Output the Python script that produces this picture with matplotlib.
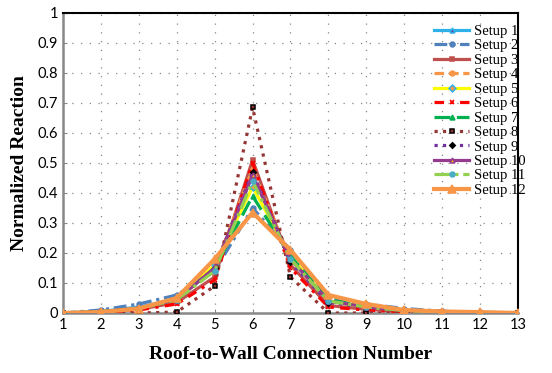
import numpy as np
import matplotlib.pyplot as plt

# номери з'єднань
x = np.arange(1, 14)

labels = ['Setup %d' % i for i in range(1, 13)]

s1 = [0, 0.005, 0.02, 0.045, 0.15, 0.46, 0.18, 0.04, 0.02, 0.008, 0.003, 0.001, 0]
s2 = [0, 0.01, 0.03, 0.06, 0.14, 0.35, 0.21, 0.05, 0.03, 0.015, 0.006, 0.002, 0]
s3 = [0, 0.003, 0.012, 0.035, 0.12, 0.51, 0.16, 0.025, 0.012, 0.005, 0.002, 0.001, 0]
s4 = [0, 0.004, 0.015, 0.045, 0.15, 0.48, 0.18, 0.04, 0.02, 0.008, 0.003, 0.001, 0]
s5 = [0, 0.004, 0.015, 0.045, 0.16, 0.42, 0.19, 0.04, 0.02, 0.008, 0.003, 0.001, 0]
s6 = [0, 0.002, 0.01, 0.03, 0.11, 0.50, 0.15, 0.02, 0.01, 0.004, 0.002, 0.001, 0]
s7 = [0, 0.004, 0.015, 0.045, 0.15, 0.39, 0.19, 0.045, 0.02, 0.008, 0.003, 0.001, 0]
s8 = [0, 0, 0, 0.003, 0.09, 0.685, 0.12, 0, 0, 0, 0, 0, 0]
s9 = [0, 0.004, 0.015, 0.045, 0.15, 0.47, 0.17, 0.035, 0.02, 0.008, 0.003, 0.001, 0]
s10 = [0, 0.004, 0.016, 0.045, 0.15, 0.46, 0.18, 0.04, 0.02, 0.008, 0.003, 0.001, 0]
s11 = [0, 0.004, 0.015, 0.045, 0.14, 0.44, 0.18, 0.04, 0.02, 0.008, 0.003, 0.001, 0]
s12 = [0, 0.003, 0.015, 0.05, 0.18, 0.335, 0.21, 0.06, 0.03, 0.01, 0.005, 0.003, 0]

series = [s1, s2, s3, s4, s5, s6, s7, s8, s9, s10, s11, s12]

# стиль: колір, лінія, маркер, колір маркера, край маркера
styles = [
    ('#2eb0e8', '-', '^', '#7030a0', '#2eb0e8'),
    ('#4f81bd', (0, (4, 1.5, 1, 1.5)), 'o', '#4f81bd', '#4f81bd'),
    ('#c0504d', '-', 's', '#c0504d', '#c0504d'),
    ('#f79646', (0, (3, 1.5)), 'o', '#f79646', '#f79646'),
    ('#ffff00', '-', 'D', '#f79646', '#2eb0e8'),
    ('#ff0000', (0, (3, 2, 1, 2)), 'x', '#ff0000', '#ff0000'),
    ('#00b050', (0, (5, 2)), '^', '#00b050', '#00b050'),
    ('#943634', ':', 's', '#943634', 'black'),
    ('#7030a0', ':', 'D', 'black', 'black'),
    ('#953b8f', '-', '^', '#ffc000', '#953b8f'),
    ('#92d050', (0, (5, 1.5, 1, 1.5)), 'o', '#4bacc6', '#4bacc6'),
    ('#f79646', '-', '^', '#f79646', '#f79646'),
]

fig = plt.figure(figsize=(5.52, 3.73), dpi=100)
ax = fig.add_axes([63 / 552, 60 / 373, 455 / 552, 300 / 373])

for i, (y, st) in enumerate(zip(series, styles)):
    c, ls, mk, mfc, mec = st
    lw = 3 if i == 11 else 2.3
    ms = 5.5 if i == 11 else 3.5
    if i == 8:
        ms = 2.8
    ax.plot(x, y, color=c, linestyle=ls, linewidth=lw, marker=mk,
            markersize=ms, markerfacecolor=mfc, markeredgecolor=mec,
            markeredgewidth=1.1, label=labels[i], zorder=3 + i * 0.1)

ax.set_xlim(1, 13)
ax.set_ylim(0, 1)
ax.set_xticks(range(1, 14))
ax.set_yticks(np.arange(0, 1.01, 0.1))
ax.set_yticklabels(['0', '0.1', '0.2', '0.3', '0.4', '0.5', '0.6', '0.7', '0.8', '0.9', '1'])
ax.grid(True, color='#888888', linestyle=(0, (1, 6)), linewidth=0.9)
ax.tick_params(labelsize=10.5, length=3, color='#888888', direction='in')
for t in ax.get_xticklabels() + ax.get_yticklabels():
    t.set_family('Lato')

ax.spines['left'].set_color('#888888')
ax.spines['bottom'].set_color('#888888')
ax.spines['left'].set_linewidth(1.8)
ax.spines['bottom'].set_linewidth(1.8)
ax.spines['top'].set_color('black')
ax.spines['right'].set_color('black')
ax.spines['top'].set_linewidth(1.5)
ax.spines['right'].set_linewidth(1.5)

ax.set_xlabel('Roof-to-Wall Connection Number', family='Liberation Serif',
              fontweight='bold', fontsize=14, labelpad=10)
ax.set_ylabel('Normalized Reaction', family='Liberation Serif',
              fontweight='bold', fontsize=14, labelpad=7)

ax.legend(loc='upper right', bbox_to_anchor=(1.035, 0.99), frameon=False,
          prop={'family': 'Liberation Serif', 'size': 10.5},
          handlelength=2.4, labelspacing=0.085, handletextpad=0.3,
          borderaxespad=0.2)

plt.savefig('out.png', dpi=100)
